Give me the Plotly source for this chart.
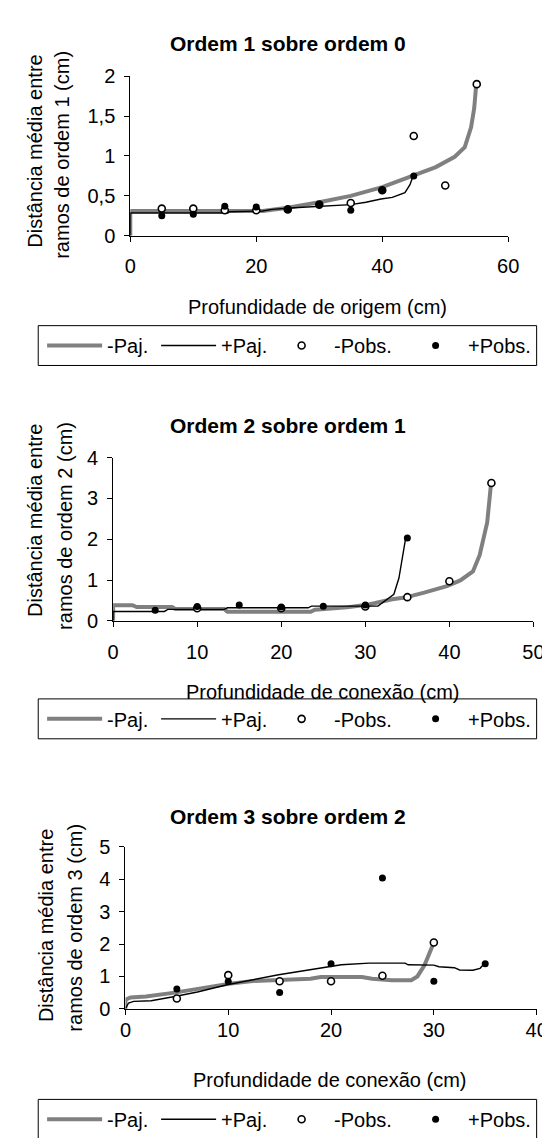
import plotly.graph_objects as go

W, H = 550, 1138
FONT = "Liberation Sans, Arial, sans-serif"
GRAY = "#808080"

# ---------------- Panel 1: Ordem 1 sobre ordem 0 ----------------
p1_pajm_x = [0, 0, 21, 25, 30, 35, 40, 45, 48.5, 51.5, 53.1, 54.1, 54.6, 54.9]
p1_pajm_y = [0, 0.31, 0.31, 0.35, 0.42, 0.50, 0.61, 0.76, 0.86, 0.99, 1.11, 1.36, 1.60, 1.88]
p1_pajp_x = [0, 0, 15.5, 15.7, 21, 22.5, 26, 30, 35, 37.4, 39.8, 41.6, 43.6, 44.4, 44.9]
p1_pajp_y = [0, 0.285, 0.285, 0.30, 0.31, 0.33, 0.35, 0.37, 0.39, 0.42, 0.46, 0.48, 0.54, 0.64, 0.75]
p1_obsm_x = [5, 10, 15, 20, 25, 30, 35, 40, 45, 50, 55]
p1_obsm_y = [0.34, 0.34, 0.32, 0.32, 0.33, 0.39, 0.41, 0.57, 1.25, 0.63, 1.90]
p1_obsp_x = [5, 10, 15, 20, 25, 30, 35, 40, 45]
p1_obsp_y = [0.25, 0.27, 0.37, 0.36, 0.33, 0.39, 0.32, 0.57, 0.75]

# ---------------- Panel 2: Ordem 2 sobre ordem 1 ----------------
p2_pajm_x = [0, 0, 2.3, 2.8, 7, 7.4, 13.2, 13.6, 23.5, 24, 27.8, 30.4, 33.2, 34.7, 37, 39.7, 41.3, 42.8, 43.6, 44.5, 44.95]
p2_pajm_y = [0, 0.385, 0.385, 0.34, 0.34, 0.29, 0.29, 0.22, 0.22, 0.27, 0.33, 0.40, 0.53, 0.57, 0.69, 0.85, 0.99, 1.21, 1.61, 2.41, 3.35]
p2_pajp_x = [0, 0, 6.1, 6.5, 13.2, 13.6, 23.2, 23.6, 31.5, 32.4, 33.4, 34, 34.5, 34.8]
p2_pajp_y = [0, 0.23, 0.23, 0.28, 0.28, 0.32, 0.32, 0.36, 0.36, 0.49, 0.65, 1.05, 1.69, 2.03]
p2_obsm_x = [10, 20, 30, 35, 40, 45]
p2_obsm_y = [0.31, 0.31, 0.35, 0.58, 0.97, 3.38]
p2_obsp_x = [5, 10, 15, 20, 25, 30, 35]
p2_obsp_y = [0.26, 0.35, 0.39, 0.34, 0.36, 0.39, 2.03]

# ---------------- Panel 3: Ordem 3 sobre ordem 2 ----------------
p3_pajm_x = [0, 0, 0.5, 2, 4.8, 7.1, 10, 12.4, 15, 18, 19, 23, 24, 25.9, 27.8, 28.4, 29.1, 29.7, 30]
p3_pajm_y = [0, 0.28, 0.35, 0.38, 0.50, 0.62, 0.77, 0.86, 0.90, 0.93, 0.98, 0.98, 0.93, 0.88, 0.88, 1.00, 1.35, 1.80, 2.05]
p3_pajp_x = [0, 0.3, 0.8, 2.5, 4.8, 7, 10, 12.4, 14.9, 17.8, 19.8, 21, 23.7, 27.2, 27.5, 30, 30.5, 32, 32.5, 33.8, 34.5, 34.9]
p3_pajp_y = [0, 0.18, 0.23, 0.25, 0.38, 0.52, 0.75, 0.90, 1.05, 1.20, 1.30, 1.36, 1.41, 1.41, 1.36, 1.35, 1.30, 1.27, 1.20, 1.19, 1.25, 1.39]
p3_obsm_x = [5, 10, 15, 20, 25, 30]
p3_obsm_y = [0.32, 1.04, 0.85, 0.85, 1.02, 2.05]
p3_obsp_x = [5, 10, 15, 20, 25, 30, 35]
p3_obsp_y = [0.61, 0.84, 0.50, 1.39, 4.04, 0.85, 1.39]

names = ["-Paj.", "+Paj.", "-Pobs.", "+Pobs."]
titles = ["Ordem 1 sobre ordem 0", "Ordem 2 sobre ordem 1", "Ordem 3 sobre ordem 2"]
xtitles = ["Profundidade de origem (cm)", "Profundidade de conexão (cm)", "Profundidade de conexão (cm)"]
ytitle1 = "Distância média entre"
ytitles2 = ["ramos de ordem 1 (cm)", "ramos de ordem 2 (cm)", "ramos de ordem 3 (cm)"]
xranges = [[0, 60], [0, 50], [0, 40]]
yranges = [[0, 2], [0, 4], [0, 5]]
xdticks = [20, 10, 10]
ydticks = [0.5, 1, 1]

panels = [
    (p1_pajm_x, p1_pajm_y, p1_pajp_x, p1_pajp_y, p1_obsm_x, p1_obsm_y, p1_obsp_x, p1_obsp_y),
    (p2_pajm_x, p2_pajm_y, p2_pajp_x, p2_pajp_y, p2_obsm_x, p2_obsm_y, p2_obsp_x, p2_obsp_y),
    (p3_pajm_x, p3_pajm_y, p3_pajp_x, p3_pajp_y, p3_obsm_x, p3_obsm_y, p3_obsp_x, p3_obsp_y),
]

# layout geometry (pixels)
plot_px = [  # x0, x1, ytop, ybottom
    (120, 510, 58.3, 221),
    (102.3, 536, 447.3, 613.7),
    (115, 539.3, 844.3, 1009.3),
]
title_py = [25, 415, 813]
xtitle_pos = [(313.5, 294), (318.5, 686), (326, 1081.7)]
ytitle_pos = [((21.5, 134.5), (50, 138)), ((21.5, 511), (52.5, 517)), ((33, 924), (63, 926.5))]
legend_box = [(25, 312.7, 539.3, 353.3), (25, 693.3, 539.3, 734), (25, 1101.7, 539.3, 1142.3)]
xstand = [7, 8, -2]
legend_widths = [44, 43, 64, 58]

def px(x):
    return x / W

def py(y):
    return 1 - y / H

fig = go.Figure()
annotations = []
shapes = []
layout = dict(
    width=W, height=H, margin=dict(l=0, r=0, t=0, b=0),
    paper_bgcolor="white", plot_bgcolor="white",
    separators=",.", font=dict(family=FONT, size=20, color="black"),
)

for i, data in enumerate(panels):
    ax = "" if i == 0 else str(i + 1)
    lg = "legend" if i == 0 else "legend" + str(i + 1)
    xa, ya = "x" + ax, "y" + ax
    mx, my, pxx, pyy, omx, omy, opx, opy = data
    fig.add_trace(go.Scatter(x=mx, y=my, mode="lines", name=names[0],
                             line=dict(color=GRAY, width=4), xaxis=xa, yaxis=ya,
                             legend=lg, legendwidth=legend_widths[0]))
    fig.add_trace(go.Scatter(x=pxx, y=pyy, mode="lines", name=names[1],
                             line=dict(color="black", width=1.4), xaxis=xa, yaxis=ya,
                             legend=lg, legendwidth=legend_widths[1]))
    fig.add_trace(go.Scatter(x=omx, y=omy, mode="markers", name=names[2],
                             marker=dict(symbol="circle", size=7, color="white",
                                         line=dict(color="black", width=1.6)),
                             xaxis=xa, yaxis=ya, legend=lg, legendwidth=legend_widths[2]))
    fig.add_trace(go.Scatter(x=opx, y=opy, mode="markers", name=names[3],
                             marker=dict(symbol="circle", size=7, color="black",
                                         line=dict(color="black", width=0)),
                             xaxis=xa, yaxis=ya, legend=lg, legendwidth=legend_widths[3]))

    x0, x1, yt, yb = plot_px[i]
    axis_common = dict(showline=True, linecolor="black", linewidth=1, ticks="outside",
                       ticklen=5, tickwidth=1, tickcolor="black", showgrid=False,
                       zeroline=False, tickfont=dict(family=FONT, size=20, color="black"),
                       fixedrange=True)
    layout["xaxis" + ax] = dict(axis_common, domain=[px(x0), px(x1)], range=xranges[i],
                                dtick=xdticks[i], tick0=0, anchor=ya, ticklabelstandoff=xstand[i])
    layout["yaxis" + ax] = dict(axis_common, domain=[py(yb), py(yt)], range=yranges[i],
                                dtick=ydticks[i], tick0=0, anchor=xa, ticklabelstandoff=5)

    annotations.append(dict(text="<b>" + titles[i] + "</b>", x=px(283), y=py(title_py[i]),
                            xref="paper", yref="paper", showarrow=False,
                            xanchor="center", yanchor="middle",
                            font=dict(family=FONT, size=21, color="black")))
    annotations.append(dict(text=xtitles[i], x=px(xtitle_pos[i][0]), y=py(xtitle_pos[i][1]),
                            xref="paper", yref="paper", showarrow=False,
                            xanchor="center", yanchor="middle",
                            font=dict(family=FONT, size=20, color="black")))
    (l1x, l1y), (l2x, l2y) = ytitle_pos[i]
    annotations.append(dict(text=ytitle1, x=px(l1x), y=py(l1y), textangle=-90,
                            xref="paper", yref="paper", showarrow=False,
                            xanchor="center", yanchor="middle",
                            font=dict(family=FONT, size=20, color="black")))
    annotations.append(dict(text=ytitles2[i], x=px(l2x), y=py(l2y), textangle=-90,
                            xref="paper", yref="paper", showarrow=False,
                            xanchor="center", yanchor="middle",
                            font=dict(family=FONT, size=20, color="black")))

    bx0, by0, bx1, by1 = legend_box[i]
    shapes.append(dict(type="rect", xref="paper", yref="paper",
                       x0=px(bx0), x1=px(bx1), y0=py(by1), y1=py(by0),
                       line=dict(color="black", width=1), fillcolor="rgba(0,0,0,0)"))
    layout[lg] = dict(orientation="h", x=px(29), xanchor="left",
                      y=py((by0 + by1) / 2), yanchor="middle",
                      bgcolor="rgba(0,0,0,0)", borderwidth=0,
                      font=dict(family=FONT, size=20, color="black"),
                      entrywidthmode="pixels", itemwidth=55, traceorder="normal")

layout["annotations"] = annotations
layout["shapes"] = shapes
layout["showlegend"] = True
fig.update_layout(**layout)
fig.write_html("out.html")
